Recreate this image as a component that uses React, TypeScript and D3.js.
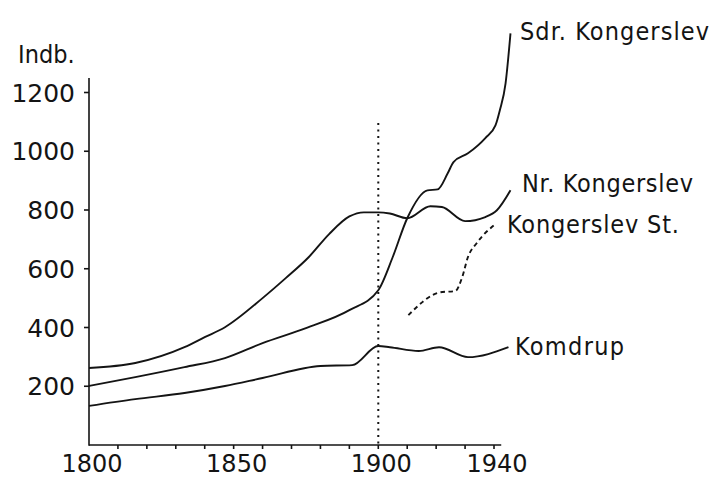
import { scaleLinear, line, curveMonotoneX, range } from 'd3'

// values (inhabitants)
const nrYears = [1800, 1816, 1833, 1840, 1847, 1860, 1868, 1876, 1883, 1890, 1895, 1900, 1904, 1910, 1918, 1922, 1930, 1937, 1941, 1945.7]
const nrValues = [262, 279, 333, 367, 401, 500, 568, 640, 718, 778, 792, 792, 788, 772, 813, 810, 762, 776, 799, 867]

const sdrYears = [1800, 1816, 1833, 1847, 1860, 1875, 1890, 1900, 1905, 1910, 1917, 1920.5, 1924, 1926, 1931, 1937, 1940.5, 1942, 1944, 1945.7]
const sdrValues = [201, 231, 265, 296, 347, 398, 459, 527, 640, 772, 867, 870, 925, 963, 993, 1045, 1088, 1139, 1231, 1401]

const komYears = [1800, 1816, 1833, 1847, 1860, 1880, 1891, 1900, 1904, 1914, 1921, 1931, 1945]
const komValues = [133, 156, 177, 201, 228, 269, 272, 337, 333, 320, 333, 299, 333]

const stYears = [1910.4, 1921.5, 1926.6, 1929, 1931, 1934, 1940.5]
const stValues = [442, 520, 524, 571, 640, 687, 752]

const xTickLabels = [1800, 1850, 1900, 1940]
const yTickLabels = [200, 400, 600, 800, 1000, 1200]
const markerYear = 1900

const ink = '#141414'

function zip(xs: number[], ys: number[]) {
  return xs.map((x, i) => [x, ys[i]] as [number, number])
}

export default function App() {
  const width = 713
  const height = 478

  const xScale = scaleLinear().domain([1800, 1940]).range([89, 494])
  const yScale = scaleLinear().domain([0, 1200]).range([445, 92.5])

  const path = line<[number, number]>()
    .x(d => xScale(d[0]))
    .y(d => yScale(d[1]))
    .curve(curveMonotoneX)

  const series = [
    { name: 'Nr. Kongerslev', data: zip(nrYears, nrValues), dash: undefined },
    { name: 'Sdr. Kongerslev', data: zip(sdrYears, sdrValues), dash: undefined },
    { name: 'Komdrup', data: zip(komYears, komValues), dash: undefined },
    { name: 'Kongerslev St.', data: zip(stYears, stValues), dash: '4.5 3.5' },
  ]

  // labels at the right end of each line
  const labels = [
    { text: 'Sdr. Kongerslev', x: 520, y: 40, w: 189 },
    { text: 'Nr. Kongerslev', x: 522, y: 192, w: 171 },
    { text: 'Kongerslev St.', x: 507, y: 233, w: 172 },
    { text: 'Komdrup', x: 515, y: 355, w: 109 },
  ]

  const x0 = xScale(1800)
  const y0 = yScale(0)
  const minorTicks = range(1810, 1941, 10)

  return (
    <svg width={width} height={height} viewBox={`0 0 ${width} ${height}`}
      style={{ position: 'absolute', left: 0, top: 0, background: '#fff' }}>
      {/* axes */}
      <g stroke={ink} strokeWidth={1.6} fill="none">
        <line x1={x0} x2={x0} y1={78} y2={y0 + 0.8} />
        <line x1={x0} x2={xScale(1942.5)} y1={y0} y2={y0} />
        {yTickLabels.map(v =>
          <line key={v} x1={x0 - 5} x2={x0} y1={yScale(v)} y2={yScale(v)} />)}
        {minorTicks.map(t =>
          <line key={t} x1={xScale(t)} x2={xScale(t)} y1={y0} y2={y0 + 4} />)}
      </g>
      <g fill={ink} fontFamily="DejaVu Sans" fontSize={25} textAnchor="end">
        {yTickLabels.map(v =>
          <text key={v} x={x0 - 14} y={yScale(v) + 9}>{v}</text>)}
      </g>
      <g fill={ink} fontFamily="DejaVu Sans" fontSize={24} textAnchor="middle">
        {xTickLabels.map(t =>
          <text key={t} x={xScale(t) + 3} y={472}>{t}</text>)}
      </g>
      <text x={18} y={63} fill={ink} fontFamily="DejaVu Sans Condensed" fontSize={25}>Indb.</text>

      {/* 1900 marker */}
      <line x1={xScale(markerYear)} x2={xScale(markerYear)} y1={123} y2={y0}
        stroke={ink} strokeWidth={2} strokeDasharray="2 4.5" />

      {/* series */}
      <g fill="none" stroke={ink} strokeWidth={1.9} strokeLinejoin="round">
        {series.map(s =>
          <path key={s.name} d={path(s.data) ?? ''} strokeDasharray={s.dash} />)}
      </g>
      <g fill={ink} fontFamily="DejaVu Sans Condensed" fontSize={25}>
        {labels.map(l =>
          <text key={l.text} x={l.x} y={l.y} textLength={l.w} lengthAdjust="spacing">{l.text}</text>)}
      </g>
    </svg>
  )
}
